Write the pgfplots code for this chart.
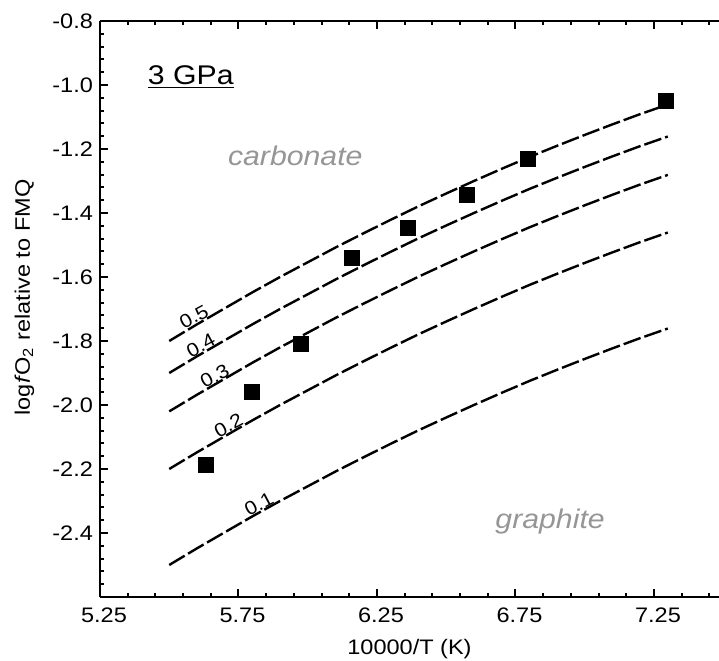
\documentclass[border=0pt]{standalone}
\usepackage{fontspec}
\setmainfont{Liberation Sans}[FakeStretch=1.12]
\usepackage{pgfplots}
\usepackage{pgfplotstable}
\pgfplotsset{compat=1.18}
\definecolor{labgray}{RGB}{150,150,150}

\pgfplotstableread{
x    c5      c4      c3      c2      c1
5.5 -1.800 -1.900 -2.020 -2.200 -2.500
5.6 -1.748 -1.848 -1.968 -2.148 -2.448
5.7 -1.698 -1.798 -1.918 -2.098 -2.398
5.8 -1.648 -1.748 -1.868 -2.048 -2.348
5.9 -1.600 -1.700 -1.820 -2.000 -2.300
6.0 -1.554 -1.654 -1.774 -1.954 -2.254
6.1 -1.508 -1.608 -1.728 -1.908 -2.208
6.2 -1.464 -1.564 -1.684 -1.864 -2.164
6.3 -1.421 -1.521 -1.641 -1.821 -2.121
6.4 -1.379 -1.479 -1.599 -1.779 -2.079
6.5 -1.339 -1.439 -1.559 -1.739 -2.039
6.6 -1.300 -1.400 -1.520 -1.700 -2.000
6.7 -1.262 -1.362 -1.482 -1.662 -1.962
6.8 -1.225 -1.325 -1.445 -1.625 -1.925
6.9 -1.190 -1.290 -1.410 -1.590 -1.890
7.0 -1.156 -1.256 -1.376 -1.556 -1.856
7.1 -1.123 -1.223 -1.343 -1.523 -1.823
7.2 -1.091 -1.191 -1.311 -1.491 -1.791
7.3 -1.061 -1.161 -1.281 -1.461 -1.761
}\curves

\pgfplotstableread{
x     y
5.633 -2.188
5.798 -1.958
5.976 -1.810
6.161 -1.540
6.361 -1.445
6.574 -1.344
6.793 -1.232
7.293 -1.050
}\squares

\begin{document}
\begin{tikzpicture}
\useasboundingbox (-50pt,-31.5pt) rectangle (309.5pt,298.5pt);
\begin{axis}[
  scale only axis,
  width=309.5pt, height=288pt,
  xmin=5.25, xmax=7.4847, ymin=-2.6, ymax=-0.8,
  axis x line*=box, axis y line*=left,
  axis line style={-, line width=1.3pt},
  tick align=inside,
  xtick={5.25,5.75,6.25,6.75,7.25},
  minor xtick={5.35,5.45,...,7.46},
  ytick={-2.4,-2.2,...,-0.79},
  minor ytick={-2.56,-2.52,...,-0.83},
  major tick length=4pt, minor tick length=2.2pt,
  every tick/.style={black, line width=1pt},
  /pgf/number format/assume math mode=true,
  xticklabel style={/pgf/number format/.cd, fixed, fixed zerofill, precision=2, /tikz/.cd, yshift=-2pt, xshift=2pt},
  yticklabel style={/pgf/number format/.cd, fixed, fixed zerofill, precision=1},
  tick label style={font=\fontsize{10.5}{12}\selectfont},
  label style={font=\fontsize{10.5}{12}\selectfont},
  xlabel={10000/T (K)},
  ylabel={log\textit{f}O\textsubscript{2} relative to FMQ},
  xlabel style={at={(axis description cs:0.5,-0.090)}, anchor=center},
  ylabel style={at={(axis description cs:-0.122,0.52)}, anchor=center},
  clip=false,
]
\addplot[black, line width=1.2pt, dash pattern=on 9pt off 2pt] table[x=x,y=c5] {\curves};
\addplot[black, line width=1.2pt, dash pattern=on 9pt off 2pt] table[x=x,y=c4] {\curves};
\addplot[black, line width=1.2pt, dash pattern=on 9pt off 2pt] table[x=x,y=c3] {\curves};
\addplot[black, line width=1.2pt, dash pattern=on 9pt off 2pt] table[x=x,y=c2] {\curves};
\addplot[black, line width=1.2pt, dash pattern=on 9pt off 2pt] table[x=x,y=c1] {\curves};
\addplot[only marks, mark=square*, mark size=3.75pt, mark options={fill=black, draw=black}] table[x=x,y=y] {\squares};

\node[rotate=28, anchor=base, font=\fontsize{9.5}{10}\selectfont, inner sep=1pt] at (axis cs:5.60,-1.742) {0.5};
\node[rotate=28, anchor=base, font=\fontsize{9.5}{10}\selectfont, inner sep=1pt] at (axis cs:5.625,-1.832) {0.4};
\node[rotate=28, anchor=base, font=\fontsize{9.5}{10}\selectfont, inner sep=1pt] at (axis cs:5.675,-1.927) {0.3};
\node[rotate=28, anchor=base, font=\fontsize{9.5}{10}\selectfont, inner sep=1pt] at (axis cs:5.725,-2.082) {0.2};
\node[rotate=28, anchor=base, font=\fontsize{9.5}{10}\selectfont, inner sep=1pt] at (axis cs:5.835,-2.327) {0.1};

\node[font=\fontsize{13.5}{15}\selectfont] at (axis cs:5.578,-0.975) {\underline{3 GPa}};
\node[font=\itshape\fontsize{13.5}{15}\selectfont, text=labgray] at (axis cs:5.955,-1.222) {carbonate};
\node[font=\itshape\fontsize{13.5}{15}\selectfont, text=labgray] at (axis cs:6.875,-2.365) {graphite};
\end{axis}
\end{tikzpicture}
\end{document}
